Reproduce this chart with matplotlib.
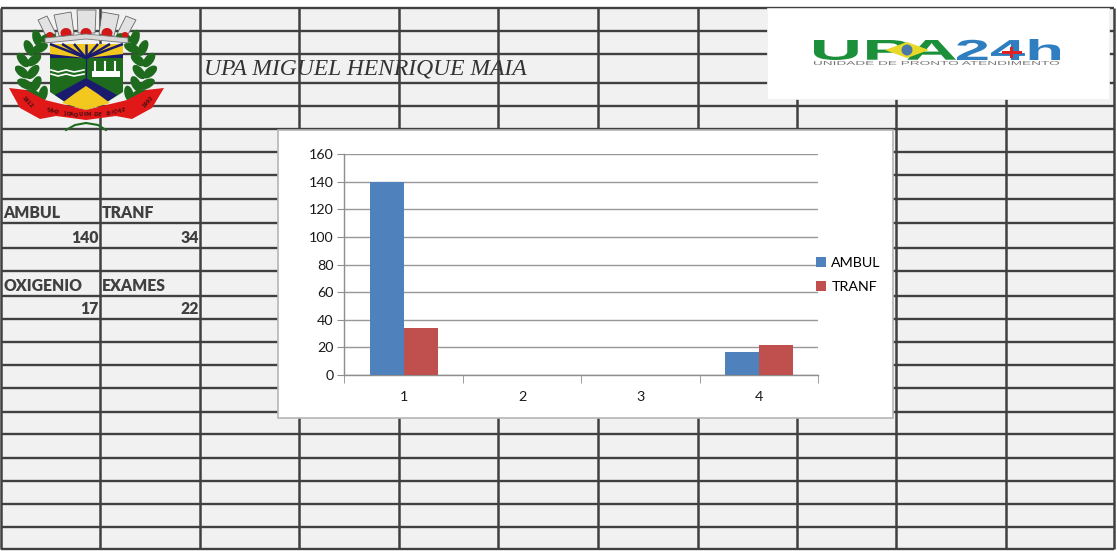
"""plot.py
Spreadsheet screenshot with a small column chart on top of it.
"""

import numpy as np
import matplotlib
matplotlib.use('Agg')
import matplotlib.pyplot as plt
from matplotlib.patches import Polygon, Rectangle, Ellipse, PathPatch
from matplotlib.textpath import TextPath
from matplotlib.font_manager import FontProperties
from matplotlib.transforms import Affine2D

# chart values
categories = ['1', '2', '3', '4']
ambul = [140, 0, 0, 17]
tranf = [34, 0, 0, 22]
y_ticks = [0, 20, 40, 60, 80, 100, 120, 140, 160]

# sheet texts
title = 'UPA MIGUEL HENRIQUE MAIA'
header_a = ['AMBUL', 'OXIGENIO']
header_b = ['TRANF', 'EXAMES']
value_a = ['140', '17']
value_b = ['34', '22']

# sheet grid, in pixels
row_lines = [8, 31, 54, 83, 106, 129, 152, 175, 199, 223, 248, 271, 296, 319,
             342, 365, 388, 412, 434, 458, 481, 504, 527, 549]
col_lines = [1, 100, 200, 299, 399, 498, 598, 698, 797, 896, 1006, 1114]

W, H = 1117, 551
INK = '#404040'
BLUE = '#4F81BD'
RED = '#C0504D'
LEAF = '#1E6B1E'
NAVY = '#1A1A6E'
GOLD = '#F3C81E'
CREST_MID = 86


def fitted_text(ax, s, box, color, weight='bold', family='Liberation Sans'):
    """Draw text stretched into box = (x0, y0, x1, y1), y pointing down."""
    tp = TextPath((0, 0), s, size=10, prop=FontProperties(family=family, weight=weight))
    bb = tp.get_extents()
    x0, y0, x1, y1 = box
    tr = (Affine2D().translate(-bb.x0, -bb.y0)
          .scale((x1 - x0) / bb.width, -(y1 - y0) / bb.height)
          .translate(x0, y1))
    ax.add_patch(PathPatch(tp, transform=tr + ax.transData, fc=color, ec='none', zorder=6))


def draw_laurel(ax, side):
    """Laurel branch, side=-1 left of the shield and side=1 right of it."""
    # stem node on the left branch, angle of its outer leaf (inner one is the outer minus 90)
    nodes = [(43, 38, 75), (35, 48, 65), (29, 60, 52), (28, 72, 40), (31, 84, 27), (38, 94, 15)]
    for x, y, ang in nodes:
        for dx, a in [(-6, ang), (5, ang - 90)]:
            if side < 0:
                ax.add_patch(Ellipse((x + dx, y), 17, 9, angle=a, fc=LEAF, ec='none', zorder=4))
            else:
                ax.add_patch(Ellipse((2 * CREST_MID - x - dx, y), 17, 9, angle=-a, fc=LEAF, ec='none', zorder=4))


def draw_crest(ax):
    # crown towers, leaning outwards
    towers = [[(38, 20), (47, 16), (56, 34), (47, 38)],
              [(54, 15), (71, 12), (74, 34), (59, 36)],
              [(77, 10), (96, 10), (95, 33), (78, 33)],
              [(102, 12), (119, 15), (114, 36), (99, 34)],
              [(126, 16), (136, 20), (126, 38), (117, 34)]]
    for pts in towers:
        ax.add_patch(Polygon(pts, closed=True, fc='#E2E2E2', ec='#666666', lw=0.6, zorder=4))
    for x in [66, 86, 107]:
        ax.add_patch(Ellipse((x, 33), 11, 10, fc='#D01818', ec='none', zorder=5))
    ax.add_patch(Ellipse((50, 35), 7, 6, fc='#D01818', ec='none', zorder=5))
    ax.add_patch(Ellipse((125, 35), 7, 6, fc='#D01818', ec='none', zorder=5))
    ax.add_patch(Polygon([(45, 38), (86, 34), (128, 38), (128, 43), (86, 39), (45, 43)], closed=True,
                         fc='#D8D8D8', ec='#777777', lw=0.6, zorder=5))
    draw_laurel(ax, -1)
    draw_laurel(ax, 1)
    # ribbon
    ribbon = [(9, 88), (26, 90), (45, 100), (86, 110), (127, 100), (146, 90), (164, 88),
              (152, 108), (132, 119), (116, 116), (86, 120), (56, 116), (40, 119), (20, 108)]
    ax.add_patch(Polygon(ribbon, closed=True, fc='#E01818', ec='none', zorder=4))
    # shield
    ax.add_patch(Polygon([(50, 44), (123, 44), (123, 92), (104, 104), (86, 110), (68, 104), (50, 92)],
                         closed=True, fc=LEAF, ec='none', zorder=5))
    ax.add_patch(Rectangle((50, 44), 73, 14, fc=GOLD, ec='none', zorder=6))
    for x_end in [50, 62, 74, 86, 98, 110, 123]:
        ax.plot([CREST_MID, x_end], [58, 44], color=NAVY, lw=1.8, zorder=7, solid_capstyle='butt')
    ax.add_patch(Polygon([(50, 54), (86, 58), (123, 54), (123, 58), (50, 58)], closed=True, fc=NAVY, zorder=7))
    ax.add_patch(Polygon([(55, 95), (86, 78), (117, 95), (104, 104), (86, 110), (68, 104)],
                         closed=True, fc=NAVY, ec='none', zorder=6))
    ax.add_patch(Polygon([(62, 103), (74, 94), (86, 86), (98, 94), (110, 103), (86, 110)],
                         closed=True, fc=GOLD, ec='none', zorder=7))
    ax.plot([51, 58, 66, 74, 84], [70, 72, 70, 72, 70], color='white', lw=1.2, zorder=7)
    ax.plot([51, 58, 66, 74, 84], [74, 76, 74, 76, 74], color='white', lw=1.2, zorder=7)
    ax.add_patch(Rectangle((92, 71), 28, 6, fc='white', ec='none', zorder=7))
    for x in [95, 105, 115]:
        ax.plot([x, x], [62, 72], color='white', lw=1.5, zorder=7)
    ax.plot([86, 86], [58, 84], color=NAVY, lw=0.8, zorder=7)
    # ribbon lettering follows the curve, one glyph at a time
    motto = 'SÃO JOAQUIM DE BICAS'
    for i, ch in enumerate(motto):
        t = i / (len(motto) - 1) * 2 - 1
        ax.text(CREST_MID + 37 * t, 115 - 5 * t * t, ch, fontsize=3.8, color='#4A1010', weight='bold',
                rotation=-14 * t, ha='center', va='center', zorder=8)
    ax.text(27, 102, '1912', fontsize=3.6, color='#4A1010', weight='bold', rotation=-48,
            ha='center', va='center', zorder=8)
    ax.text(148, 102, '1992', fontsize=3.6, color='#4A1010', weight='bold', rotation=48,
            ha='center', va='center', zorder=8)
    ax.plot([66, 75, 86, 98, 106], [130, 125, 123, 125, 130], color=LEAF, lw=1.5, zorder=4)


def draw_upa_logo(ax):
    ax.add_patch(Rectangle((767, 8), 342, 91, fc='white', ec='#F0F0F0', lw=0.5, zorder=5))
    fitted_text(ax, 'UPA', (814, 40, 956, 60), '#1B8F3A')
    ax.add_patch(Polygon([(885, 50), (907, 42), (929, 50), (907, 58)], closed=True,
                         fc='#E8D82A', ec='none', zorder=7))
    ax.add_patch(Ellipse((907, 50), 11, 11, fc='#4A78A8', ec='none', zorder=8))
    fitted_text(ax, '24h', (957, 39, 1060, 60), '#2F7FC0')
    ax.add_patch(Rectangle((1002, 51), 20, 3, fc='#E02020', ec='none', zorder=8))
    ax.add_patch(Rectangle((1010, 47), 3, 11, fc='#E02020', ec='none', zorder=8))
    fitted_text(ax, 'UNIDADE DE PRONTO ATENDIMENTO', (814, 61, 1059, 65), '#777777', weight='normal')


fig = plt.figure(figsize=(W / 100, H / 100), dpi=100, facecolor='white')

# the sheet is drawn in pixel coordinates
sheet = fig.add_axes([0, 0, 1, 1])
sheet.set_xlim(0, W)
sheet.set_ylim(H, 0)
sheet.axis('off')
sheet.add_patch(Rectangle((col_lines[0], row_lines[0]), col_lines[-1] - col_lines[0],
                          row_lines[-1] - row_lines[0], fc='#F1F1F1', ec='none', zorder=0))
for y in row_lines:
    sheet.plot([col_lines[0], col_lines[-1]], [y, y], color=INK, lw=1.7, zorder=1, solid_capstyle='butt')
for x in col_lines:
    sheet.plot([x, x], [row_lines[0], row_lines[-1]], color=INK, lw=1.8, zorder=1, solid_capstyle='butt')

sheet.text(204, 69, title, fontsize=17, style='italic', family='Liberation Serif',
           color='#333333', va='center', ha='left', zorder=3)

cell_font = dict(fontsize=11.3, weight='heavy', family='Lato', color=INK, va='center', zorder=3)
for i, y in enumerate([213, 286]):
    sheet.text(3, y, header_a[i], ha='left', **cell_font)
    sheet.text(102, y, header_b[i], ha='left', **cell_font)
for i, y in enumerate([238, 309]):
    sheet.text(99, y, value_a[i], ha='right', **cell_font)
    sheet.text(199, y, value_b[i], ha='right', **cell_font)

draw_crest(sheet)
draw_upa_logo(sheet)

# chart panel
sheet.add_patch(Rectangle((278, 130), 615, 288, fc='white', ec='#B5B5B5', lw=1.2, zorder=9))

ax = fig.add_axes([344.5 / W, 1 - 375 / H, (818 - 344.5) / W, (375 - 154) / H], zorder=10)
ax.patch.set_alpha(0)
x = np.arange(len(categories))
bar_w = 34 / 118.4
ax.bar(x - bar_w / 2, ambul, bar_w, color=BLUE, label='AMBUL', zorder=3)
ax.bar(x + bar_w / 2, tranf, bar_w, color=RED, label='TRANF', zorder=3)
ax.set_xlim(-0.5, 3.5)
ax.set_ylim(0, 160)
ax.set_yticks(y_ticks)
ax.set_xticks(x)
ax.set_xticklabels(categories)
ax.set_xticks(np.arange(-0.5, 4, 1), minor=True)
ax.grid(axis='y', color='#989898', lw=1, zorder=1)
ax.set_axisbelow(True)
for name in ['top', 'right']:
    ax.spines[name].set_visible(False)
for name in ['left', 'bottom']:
    ax.spines[name].set_color('#8E8E8E')
    ax.spines[name].set_linewidth(1)
ax.tick_params(axis='y', length=5, color='#8E8E8E', labelsize=10.3, pad=3, labelcolor='#1A1A1A')
ax.tick_params(axis='x', which='major', length=0, labelsize=10.3, pad=11.3, labelcolor='#1A1A1A')
ax.tick_params(axis='x', which='minor', length=6, color='#8E8E8E')
for label in ax.get_xticklabels() + ax.get_yticklabels():
    label.set_family('Lato')

leg = ax.legend(loc='upper left', bbox_to_anchor=(0.996, 0.532), frameon=False, ncol=1,
                prop=dict(family='Lato', size=10.3), handlelength=0.7, handleheight=0.7,
                handletextpad=0.36, labelspacing=0.82, borderaxespad=0, borderpad=0)

fig.savefig('out.png', dpi=100)
